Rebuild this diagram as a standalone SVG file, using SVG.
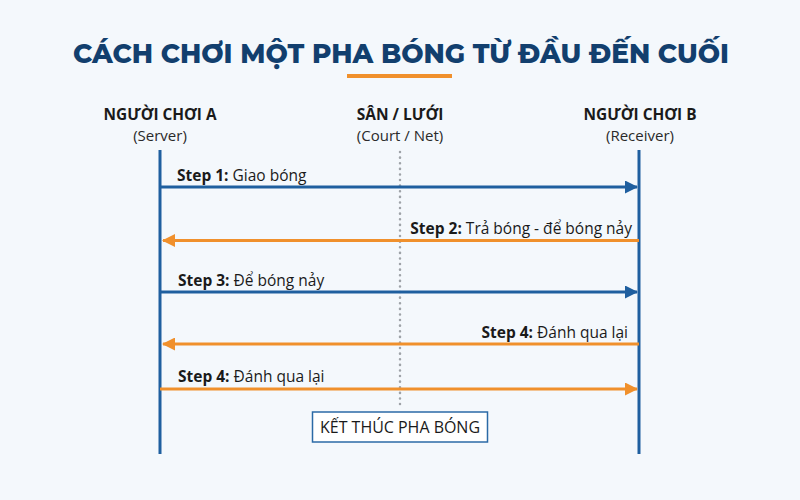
<svg xmlns="http://www.w3.org/2000/svg" width="800" height="500" viewBox="0 0 800 500">
<defs>
<style>
.title{font-family:"Montserrat","Open Sans","Liberation Sans",sans-serif;font-weight:800;font-size:27px;fill:#123f6e}
.hdr{font-family:"Open Sans","Liberation Sans",sans-serif;font-weight:700;font-size:15.5px;fill:#1a1a1a;text-anchor:middle}
.sub{font-family:"Open Sans","Liberation Sans",sans-serif;font-weight:400;font-size:15px;fill:#2a2a2a;text-anchor:middle}
.lbl{font-family:"Open Sans","Liberation Sans",sans-serif;font-size:15.5px;fill:#1a1a1a}
.b{font-weight:700}
.life{stroke:#1f5f9f;stroke-width:3;fill:none}
.net{stroke:#9ea3a8;stroke-width:2.5;stroke-dasharray:0.1 5.5;stroke-linecap:round;fill:none}
.blue{stroke:#1f5f9f;stroke-width:3;fill:none}
.orange{stroke:#f0902c;stroke-width:3;fill:none}
</style>
<marker id="ab" viewBox="0 0 13 13" refX="12" refY="6.5" markerWidth="13" markerHeight="13" markerUnits="userSpaceOnUse" orient="auto"><path d="M0,0 L13,6.5 L0,13 Z" fill="#1f5f9f"/></marker>
<marker id="ao" viewBox="0 0 13 13" refX="12" refY="6.5" markerWidth="13" markerHeight="13" markerUnits="userSpaceOnUse" orient="auto"><path d="M0,0 L13,6.5 L0,13 Z" fill="#f0902c"/></marker>
</defs>
<rect width="800" height="500" fill="#f4f8fc"/>
<text class="title" x="401" y="63" text-anchor="middle" textLength="656" lengthAdjust="spacingAndGlyphs">CÁCH CHƠI MỘT PHA BÓNG TỪ ĐẦU ĐẾN CUỐI</text>
<rect x="347" y="74" width="105" height="4" fill="#f0902c"/>

<g id="playerA">
<text class="hdr" x="160" y="119.5" textLength="113" lengthAdjust="spacingAndGlyphs">NGƯỜI CHƠI A</text>
<text class="sub" x="160" y="141">(Server)</text>
<line class="life" x1="160" y1="150" x2="160" y2="454"/>
</g>
<g id="net">
<text class="hdr" x="400" y="119.5">SÂN / LƯỚI</text>
<text class="sub" x="400" y="141">(Court / Net)</text>
<line class="net" x1="400" y1="152" x2="400" y2="405"/>
</g>
<g id="playerB">
<text class="hdr" x="640" y="119.5" textLength="113" lengthAdjust="spacingAndGlyphs">NGƯỜI CHƠI B</text>
<text class="sub" x="640" y="141">(Receiver)</text>
<line class="life" x1="639" y1="150" x2="639" y2="454"/>
</g>

<g id="connectors">
<line class="blue" x1="160" y1="187" x2="637" y2="187" marker-end="url(#ab)"/>
<text class="lbl" x="177" y="181"><tspan class="b">Step 1:</tspan> Giao bóng</text>
<line class="orange" x1="639" y1="240.5" x2="163" y2="240.5" marker-end="url(#ao)"/>
<text class="lbl" x="632" y="234" text-anchor="end"><tspan class="b">Step 2:</tspan> Trả bóng - để bóng nảy</text>
<line class="blue" x1="160" y1="292" x2="637" y2="292" marker-end="url(#ab)"/>
<text class="lbl" x="178" y="286"><tspan class="b">Step 3:</tspan> Để bóng nảy</text>
<line class="orange" x1="639" y1="344" x2="163" y2="344" marker-end="url(#ao)"/>
<text class="lbl" x="628" y="338" text-anchor="end"><tspan class="b">Step 4:</tspan> Đánh qua lại</text>
<line class="orange" x1="160" y1="389" x2="637" y2="389" marker-end="url(#ao)"/>
<text class="lbl" x="178" y="382"><tspan class="b">Step 4:</tspan> Đánh qua lại</text>
</g>

<g id="end">
<rect x="312.5" y="412" width="175" height="30" fill="#ffffff" stroke="#2b6aa6" stroke-width="1.5"/>
<text class="sub" x="400" y="433" style="font-size:16px;fill:#1a1a1a" textLength="160" lengthAdjust="spacingAndGlyphs">KẾT THÚC PHA BÓNG</text>
</g>
</svg>
